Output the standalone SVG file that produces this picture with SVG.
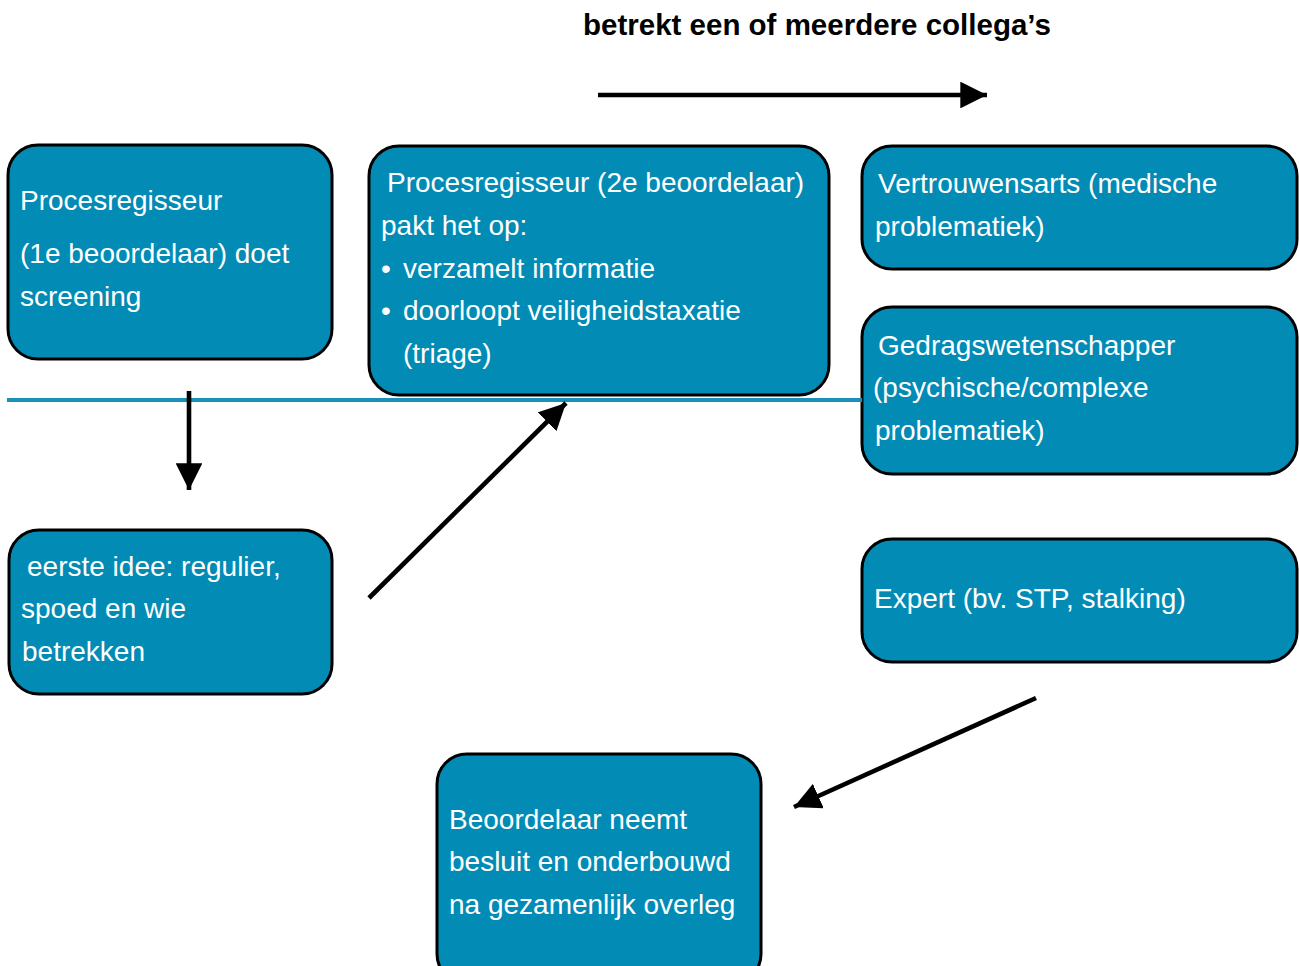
<svg xmlns="http://www.w3.org/2000/svg" width="1299" height="966" viewBox="0 0 1299 966">
<defs>
<style>
.box{fill:#028bb5;stroke:#000;stroke-width:3}
.t{fill:#fff;font-family:"Liberation Sans",Arial,sans-serif;font-size:28px}
.title{fill:#000;font-family:"Liberation Sans",Arial,sans-serif;font-size:29.5px;font-weight:bold}
.arr{stroke:#000;stroke-width:4.6;fill:none}
</style>
<marker id="ah" viewBox="0 0 10 10" refX="10" refY="5" markerWidth="5.8" markerHeight="5.8" markerUnits="strokeWidth" orient="auto">
<path d="M0,0 L10,5 L0,10 z" fill="#000"/>
</marker>
</defs>
<rect width="1299" height="966" fill="#fff"/>
<text class="title" x="583" y="35">betrekt een of meerdere collega’s</text>
<g id="n1"><rect class="box" x="8" y="145" width="324" height="214" rx="30"/>
<text class="t" x="20" y="210">Procesregisseur</text>
<text class="t" x="20" y="263">(1e beoordelaar) doet</text>
<text class="t" x="20" y="306">screening</text></g>
<g id="n2"><rect class="box" x="369" y="146" width="460" height="249" rx="30"/>
<text class="t" x="387" y="192">Procesregisseur (2e beoordelaar)</text>
<text class="t" x="381" y="235">pakt het op:</text>
<text class="t" x="381" y="278">•<tspan x="403">verzamelt informatie</tspan></text>
<text class="t" x="381" y="320">•<tspan x="403">doorloopt veiligheidstaxatie</tspan></text>
<text class="t" x="403" y="363">(triage)</text></g>
<g id="n3"><rect class="box" x="862" y="146" width="435" height="123" rx="30"/>
<text class="t" x="878" y="193">Vertrouwensarts (medische</text>
<text class="t" x="875" y="236">problematiek)</text></g>
<g id="n4"><rect class="box" x="862" y="307" width="435" height="167" rx="30"/>
<text class="t" x="878" y="355">Gedragswetenschapper</text>
<text class="t" x="873" y="397">(psychische/complexe</text>
<text class="t" x="875" y="440">problematiek)</text></g>
<g id="n5"><rect class="box" x="862" y="539" width="435" height="123" rx="30"/>
<text class="t" x="874" y="608">Expert (bv. STP, stalking)</text></g>
<g id="n6"><rect class="box" x="9" y="530" width="323" height="164" rx="30"/>
<text class="t" x="27" y="576">eerste idee: regulier,</text>
<text class="t" x="21" y="618">spoed en wie</text>
<text class="t" x="22" y="661">betrekken</text></g>
<g id="n7"><rect class="box" x="437" y="754" width="324" height="230" rx="30"/>
<text class="t" x="449" y="829">Beoordelaar neemt</text>
<text class="t" x="449" y="871">besluit en onderbouwd</text>
<text class="t" x="449" y="914">na gezamenlijk overleg</text></g>
<g id="connectors">
<line x1="7" y1="400" x2="862" y2="400" stroke="#1a8fba" stroke-width="4"/>
<line class="arr" x1="598" y1="95" x2="987" y2="95" marker-end="url(#ah)"/>
<line class="arr" x1="189" y1="391" x2="189" y2="490" marker-end="url(#ah)"/>
<line class="arr" x1="369" y1="598" x2="566" y2="403" marker-end="url(#ah)"/>
<line class="arr" x1="1036" y1="698" x2="794" y2="807" marker-end="url(#ah)"/>
</g>
</svg>
